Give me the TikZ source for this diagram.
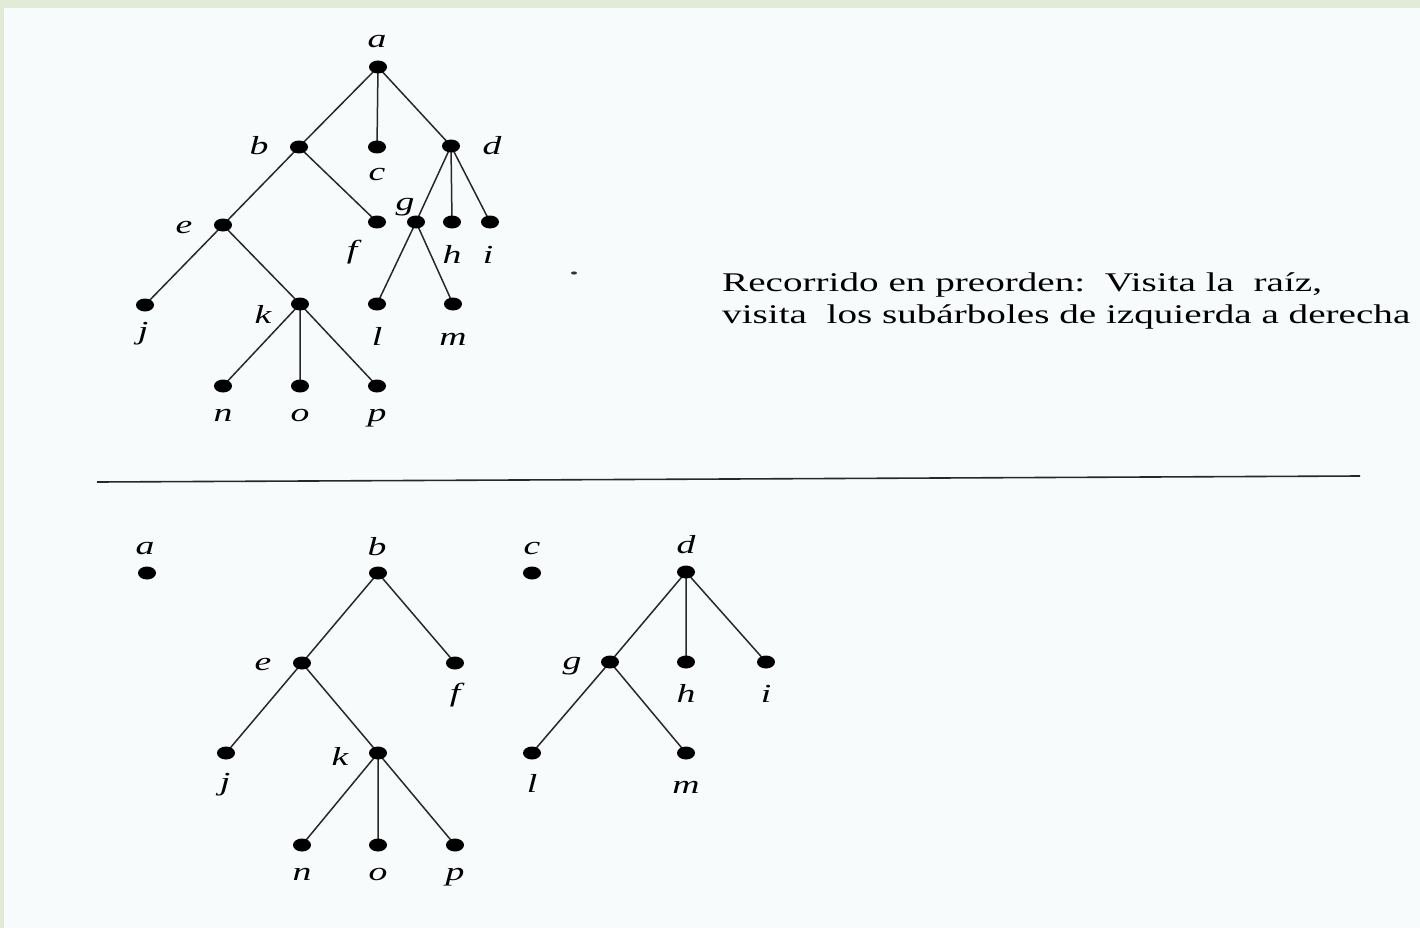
\documentclass[tikz,border=0pt]{standalone}
\usepackage{fontspec}
\setmainfont{Liberation Serif}[FakeStretch=1.45]
\definecolor{bgc}{RGB}{248,251,252}
\definecolor{band}{RGB}{226,234,216}
\definecolor{edgec}{RGB}{40,40,40}
\usetikzlibrary{shapes.geometric}
\tikzset{
  dot/.style={ellipse,inner sep=0pt,minimum width=18pt,minimum height=13pt},
  edge/.style={draw=edgec,line width=1.5pt},
  lbl/.style={anchor=base,inner sep=0pt,font=\fontsize{26}{30}\selectfont\itshape},
  txt/.style={anchor=base west,inner sep=0pt,font=\fontsize{27}{32}\selectfont}
}
\begin{document}
\begin{tikzpicture}[x=1pt,y=-1pt]
\useasboundingbox (0,0) rectangle (1420,928);
\fill[bgc] (0,0) rectangle (1420,928);
\fill[band] (0,0) rectangle (1420,8);
\fill[band] (0,0) rectangle (4,928);
% top tree
\node[dot] (a) at (378,67) {};
\node[dot] (b) at (299,147) {};
\node[dot] (c) at (377,147) {};
\node[dot] (d) at (451,146) {};
\node[dot] (e) at (223,225) {};
\node[dot] (f) at (377,222) {};
\node[dot] (g) at (416,222) {};
\node[dot] (h) at (452,222) {};
\node[dot] (i) at (490,222) {};
\node[dot] (j) at (145,305) {};
\node[dot] (k) at (300,304) {};
\node[dot] (l) at (377,304) {};
\node[dot] (m) at (453,304) {};
\node[dot] (n) at (223,386) {};
\node[dot] (o) at (300,386) {};
\node[dot] (p) at (377,386) {};
\draw[edge] (a.center) -- (b.center) (a.center) -- (c.center) (a.center) -- (d.center)
  (b.center) -- (e.center) (b.center) -- (f.center)
  (d.center) -- (g.center) (d.center) -- (h.center) (d.center) -- (i.center)
  (e.center) -- (j.center) (e.center) -- (k.center)
  (g.center) -- (l.center) (g.center) -- (m.center)
  (k.center) -- (n.center) (k.center) -- (o.center) (k.center) -- (p.center);
\foreach \v in {a,b,c,d,e,f,g,h,i,j,k,l,m,n,o,p} \fill (\v) ellipse (9pt and 6.5pt);
\node[lbl] (la) at (377,48) {a};
\node[lbl] (lb) at (259,155) {b};
\node[lbl] (lc) at (377,181) {c};
\node[lbl] (ld) at (492,155) {d};
\node[lbl] (le) at (184,233) {e};
\node[lbl] (lf) at (352,258) {f};
\node[lbl] (lg) at (405,210) {g};
\node[lbl] (lh) at (452,263) {h};
\node[lbl] (li) at (488,263) {i};
\node[lbl] (lj) at (143,339) {j};
\node[lbl] (lk) at (263,323) {k};
\node[lbl] (ll) at (377,345) {l};
\node[lbl] (lm) at (453,345) {m};
\node[lbl] (ln) at (223,421) {n};
\node[lbl] (lo) at (300,421) {o};
\node[lbl] (lp) at (377,421) {p};
% speck
\fill[black!80] (574,273) ellipse (3pt and 1.6pt);
% text
\node[txt] (t1) at (722,291) {Recorrido en preorden:\ \ Visita la\ \ raíz,};
\node[txt] (t2) at (722,323) {visita\ \ los subárboles de izquierda a derecha};
% separator
\coordinate (s1) at (97,482);
\coordinate (s2) at (1360,476);
\draw[edgec,line width=1.6pt] (s1) -- (s2);
% bottom forest
\node[dot] (A) at (147,573) {};
\node[dot] (B) at (378,573) {};
\node[dot] (C) at (532,573) {};
\node[dot] (D) at (686,572) {};
\node[dot] (E) at (302,663) {};
\node[dot] (F) at (455,663) {};
\node[dot] (G) at (610,662) {};
\node[dot] (H) at (686,662) {};
\node[dot] (I) at (766,662) {};
\node[dot] (J) at (226,753) {};
\node[dot] (K) at (378,753) {};
\node[dot] (L) at (532,753) {};
\node[dot] (M) at (686,753) {};
\node[dot] (N) at (302,845) {};
\node[dot] (O) at (378,845) {};
\node[dot] (P) at (455,845) {};
\draw[edge] (B.center) -- (E.center) (B.center) -- (F.center)
  (D.center) -- (G.center) (D.center) -- (H.center) (D.center) -- (I.center)
  (E.center) -- (J.center) (E.center) -- (K.center)
  (G.center) -- (L.center) (G.center) -- (M.center)
  (K.center) -- (N.center) (K.center) -- (O.center) (K.center) -- (P.center);
\foreach \v in {A,B,C,D,E,F,G,H,I,J,K,L,M,N,O,P} \fill (\v) ellipse (9pt and 6.5pt);
\node[lbl] (lA) at (145,554) {a};
\node[lbl] (lB) at (377,555) {b};
\node[lbl] (lC) at (532,554) {c};
\node[lbl] (lD) at (686,553) {d};
\node[lbl] (lE) at (263,670) {e};
\node[lbl] (lF) at (455,701) {f};
\node[lbl] (lG) at (572,669) {g};
\node[lbl] (lH) at (686,702) {h};
\node[lbl] (lI) at (766,702) {i};
\node[lbl] (lJ) at (225,790) {j};
\node[lbl] (lK) at (340,765) {k};
\node[lbl] (lL) at (532,792) {l};
\node[lbl] (lM) at (686,793) {m};
\node[lbl] (lN) at (302,880) {n};
\node[lbl] (lO) at (378,880) {o};
\node[lbl] (lP) at (455,880) {p};
\end{tikzpicture}
\end{document}
